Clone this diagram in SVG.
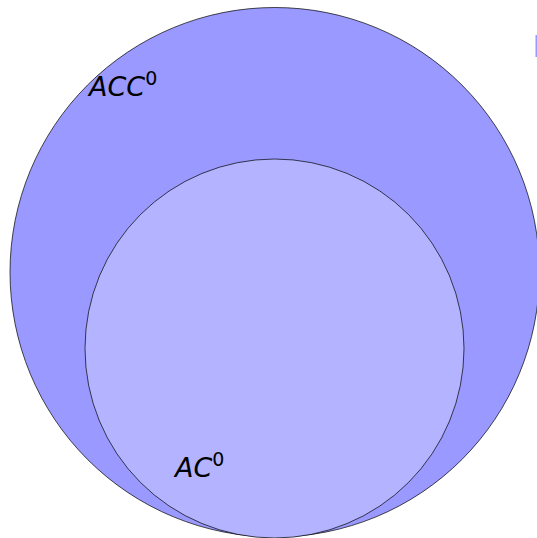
<svg xmlns="http://www.w3.org/2000/svg" width="537" height="538" viewBox="0 0 537 538">
<style>
.c{stroke:#000;stroke-width:0.7}
.t{font-family:"DejaVu Sans",sans-serif;font-style:italic;font-size:27px;fill:#000}
.s{font-size:19px;font-style:normal}
</style>
<rect width="537" height="538" fill="#fff"/>
<g id="ACC0">
<circle class="c" cx="274.75" cy="272.25" r="264.75" fill="#9999ff"/>
<text class="t" x="89" y="96">ACC<tspan class="s" dy="-11">0</tspan></text>
</g>
<g id="AC0">
<circle class="c" cx="274.5" cy="348.5" r="189.5" fill="#b3b3ff"/>
<text class="t" x="175" y="477">AC<tspan class="s" dy="-11">0</tspan></text>
</g>
<rect x="535.5" y="35" width="1.5" height="22" fill="#9999ff"/>
<g id="connectors"/>
</svg>
